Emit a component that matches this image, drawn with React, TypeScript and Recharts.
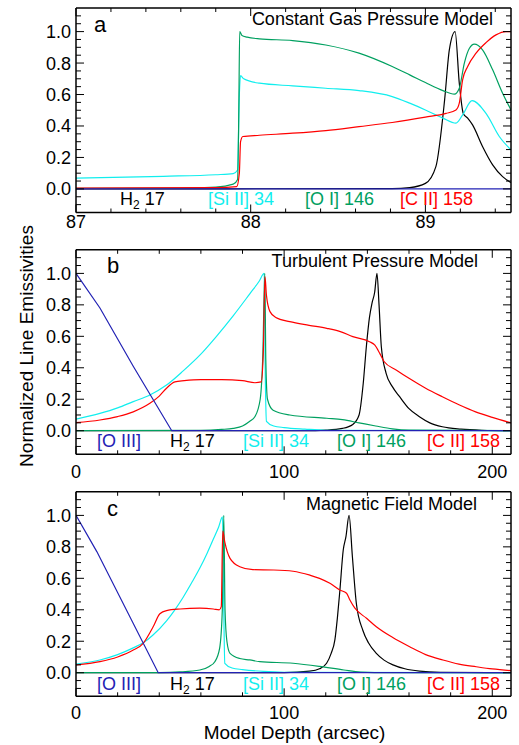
import React from 'react';
import { LineChart, Line, XAxis, YAxis } from 'recharts';

type Pt = [number, number];

// ---- panel a: Constant Gas Pressure Model (depth 87 - 89.5 arcsec)
const aH2: Pt[] = [
  [87, 0], [88.81, 0.002], [88.91, 0.008], [89.0, 0.035], [89.06, 0.142], [89.11, 0.566],
  [89.137, 0.884], [89.17, 1.0], [89.194, 0.672], [89.217, 0.48], [89.242, 0.45], [89.27, 0.407],
  [89.327, 0.27], [89.385, 0.153], [89.442, 0.078], [89.49, 0.04],
];
const aSi: Pt[] = [
  [87, 0.068], [87.5, 0.08], [87.8, 0.09], [87.9, 0.097], [87.925, 0.12], [87.935, 0.6],
  [87.942, 0.72], [87.96, 0.7], [88.05, 0.672], [88.24, 0.655], [88.43, 0.64], [88.62, 0.625],
  [88.81, 0.587], [88.91, 0.545], [89.0, 0.502], [89.1, 0.45], [89.175, 0.418], [89.213, 0.47],
  [89.267, 0.561], [89.347, 0.48], [89.423, 0.333], [89.49, 0.248],
];
const aOI: Pt[] = [
  [87, 0.003], [87.5, 0.005], [87.8, 0.012], [87.9, 0.03], [87.925, 0.06], [87.932, 0.5],
  [87.937, 1.0], [87.95, 0.975], [87.98, 0.965], [88.05, 0.954], [88.24, 0.943], [88.43, 0.915],
  [88.62, 0.863], [88.81, 0.778], [88.91, 0.725], [89.0, 0.676], [89.1, 0.625], [89.166, 0.602],
  [89.194, 0.64], [89.223, 0.8], [89.252, 0.894], [89.28, 0.92], [89.327, 0.884], [89.385, 0.757],
  [89.442, 0.608], [89.49, 0.502],
];
const aCII: Pt[] = [
  [87, 0.005], [87.8, 0.008], [87.92, 0.015], [87.935, 0.1], [87.942, 0.3], [87.955, 0.333],
  [88.05, 0.341], [88.24, 0.354], [88.43, 0.371], [88.62, 0.396], [88.81, 0.422], [89.0, 0.456],
  [89.118, 0.48], [89.175, 0.502], [89.194, 0.545], [89.213, 0.693], [89.242, 0.778],
  [89.29, 0.863], [89.347, 0.93], [89.404, 0.979], [89.461, 1.0], [89.49, 1.0],
];
const aOIII: Pt[] = [[87, 0], [89.49, 0]];

// ---- panel b: Turbulent Pressure Model (depth 0 - 209 arcsec)
const bH2: Pt[] = [
  [0, 0], [110, 0], [120, 0.004], [128, 0.015], [133, 0.04], [136, 0.1], [138, 0.3],
  [139.5, 0.534], [141, 0.72], [142.2, 0.81], [143.5, 0.88], [144.6, 1.0], [145.6, 0.8],
  [146.7, 0.534], [149, 0.365], [152, 0.28], [155.5, 0.216], [160, 0.14], [165, 0.089],
  [170, 0.05], [176, 0.025], [185, 0.01], [195, 0.003], [209, 0],
];
const bSi: Pt[] = [
  [0, 0.074], [11.5, 0.11], [20, 0.145], [27.5, 0.185], [35.5, 0.227], [43.5, 0.29],
  [51.5, 0.38], [59.5, 0.48], [67.5, 0.6], [75.5, 0.73], [83.5, 0.87], [88, 0.95],
  [90.4, 1.0], [91, 0.3], [91.5, 0.06], [95, 0.03], [100, 0.02], [110, 0.01], [120, 0.003], [209, 0],
];
const bOI: Pt[] = [
  [0, 0], [60, 0.002], [70, 0.008], [75.5, 0.015], [80, 0.03], [83.5, 0.06], [86, 0.09],
  [88.5, 0.2], [89.8, 0.5], [90.7, 1.0], [91.2, 0.45], [92, 0.2], [94.7, 0.13], [102.7, 0.1],
  [120.5, 0.079], [128, 0.07], [136, 0.05], [144, 0.03], [152, 0.012], [160, 0.004], [209, 0],
];
const bCII: Pt[] = [
  [0, 0.051], [11.5, 0.068], [20, 0.09], [27.5, 0.12], [35.5, 0.174], [40, 0.22], [43.5, 0.27],
  [47.5, 0.31], [52, 0.318], [60, 0.325], [70, 0.325], [80, 0.318], [86, 0.305], [89, 0.31],
  [90, 0.5], [90.8, 0.98], [91.5, 0.86], [93.2, 0.757], [96, 0.72], [102.7, 0.693],
  [112, 0.67], [120.5, 0.651], [127, 0.63], [133, 0.598], [141, 0.566], [143.5, 0.545],
  [146, 0.49], [148, 0.44], [154, 0.385], [160, 0.333], [168, 0.27], [176, 0.216],
  [184, 0.165], [192, 0.12], [200, 0.085], [209, 0.05],
];
const bOIII: Pt[] = [[0, 1.0], [11.5, 0.78], [27.5, 0.41], [46, 0], [209, 0]];

// ---- panel c: Magnetic Field Model
const cH2: Pt[] = [
  [0, 0], [100, 0.001], [112.3, 0.01], [117, 0.025], [120.4, 0.06], [122.5, 0.12],
  [124.4, 0.21], [125.6, 0.35], [126.8, 0.526], [128.4, 0.78], [129.7, 0.865], [131.2, 1.0],
  [132.8, 0.737], [134.7, 0.44], [137.8, 0.27], [140.5, 0.19], [144.3, 0.123], [148, 0.08],
  [152.3, 0.05], [158, 0.025], [165, 0.01], [175, 0.003], [209, 0],
];
const cSi: Pt[] = [
  [0, 0.055], [11.5, 0.081], [20, 0.115], [27.5, 0.158], [32.3, 0.19], [37, 0.24],
  [43.5, 0.33], [47.5, 0.4], [51.5, 0.48], [55.5, 0.57], [59.5, 0.665], [63, 0.76],
  [66, 0.85], [68.5, 0.925], [70.4, 0.99], [70.9, 0.5], [71.5, 0.06], [75, 0.03], [80, 0.02],
  [90, 0.008], [100, 0.003], [209, 0],
];
const cOI: Pt[] = [
  [0, 0], [40, 0.001], [50, 0.005], [59.5, 0.017], [64, 0.04], [66.7, 0.07], [69, 0.155],
  [70.3, 0.4], [71, 1.0], [71.6, 0.4], [72.5, 0.2], [74, 0.123], [78.7, 0.09], [83.5, 0.081],
  [88.3, 0.07], [104.3, 0.06], [117, 0.04], [128.7, 0.017], [136.7, 0.004], [150, 0], [209, 0],
];
const cCII: Pt[] = [
  [0, 0.049], [11.5, 0.07], [20, 0.1], [27.5, 0.144], [32.3, 0.187], [37, 0.29], [40.3, 0.375],
  [43.5, 0.395], [50, 0.405], [59.5, 0.41], [66, 0.405], [68.8, 0.4], [69.8, 0.42], [70.5, 0.9],
  [71.5, 0.83], [74, 0.727], [78.7, 0.674], [85, 0.655], [95, 0.653], [104.3, 0.645],
  [112.4, 0.62], [117, 0.6], [122, 0.568], [126.7, 0.526], [130, 0.505], [131.6, 0.462],
  [134, 0.41], [139.6, 0.346], [144.3, 0.292], [152, 0.225], [160.3, 0.165], [168, 0.115],
  [176.3, 0.081], [184, 0.055], [192.3, 0.038], [200, 0.024], [209, 0.013],
];
const cOIII: Pt[] = [[0, 1.0], [10, 0.77], [39.5, 0], [209, 0]];

// ---- axes
const aXTicks = [87, 87.2, 87.4, 87.6, 87.8, 88, 88.2, 88.4, 88.6, 88.8, 89, 89.2, 89.4];
const aXMajor = [87, 88, 89];
const bcXTicks = [0, 20, 40, 60, 80, 100, 120, 140, 160, 180, 200];
const bcXMajor = [0, 100, 200];
const yTicks = [
  -0.1, -0.05, 0, 0.05, 0.1, 0.15, 0.2, 0.25, 0.3, 0.35, 0.4, 0.45, 0.5, 0.55, 0.6,
  0.65, 0.7, 0.75, 0.8, 0.85, 0.9, 0.95, 1.0, 1.05, 1.1,
];
const yMajor = [0, 0.2, 0.4, 0.6, 0.8, 1.0];

const BLACK = '#000000';
const CYAN = '#11EEEE';
const GREEN = '#00A060';
const RED = '#FF0000';
const BLUE = '#2222B4';
const FONT = '"Liberation Sans", Arial, Helvetica, sans-serif';

const toPts = (p: Pt[]) => p.map(([x, y]) => ({ x, y }));
const isMajor = (v: number, list: number[]) => list.some((m) => Math.abs(m - v) < 1e-6);

function BottomTick(props: any) {
  const { x, y, payload, majors, labelDy } = props;
  const major = isMajor(payload.value, majors);
  return (
    <g>
      <line x1={x} x2={x} y1={y} y2={y - (major ? 8 : 4)} stroke="#000" />
      {major && (
        <text x={x} y={y + labelDy} textAnchor="middle" fontSize={18} fontFamily={FONT} fill="#000">
          {payload.value}
        </text>
      )}
    </g>
  );
}

function TopTick(props: any) {
  const { x, y, payload, majors } = props;
  const major = isMajor(payload.value, majors);
  return <line x1={x} x2={x} y1={y} y2={y + (major ? 8 : 4)} stroke="#000" />;
}

function LeftTick(props: any) {
  const { x, y, payload } = props;
  const major = isMajor(payload.value, yMajor);
  return (
    <g>
      <line x1={x} x2={x + (major ? 8 : 5)} y1={y} y2={y} stroke="#000" />
      {major && (
        <text x={x - 5} y={y + 6.5} textAnchor="end" fontSize={18} fontFamily={FONT} fill="#000">
          {payload.value.toFixed(1)}
        </text>
      )}
    </g>
  );
}

function RightTick(props: any) {
  const { x, y, payload } = props;
  const major = isMajor(payload.value, yMajor);
  return <line x1={x} x2={x - (major ? 8 : 5)} y1={y} y2={y} stroke="#000" />;
}

interface Series {
  pts: Pt[];
  color: string;
  linear?: boolean;
}

interface PanelProps {
  top: number;
  plotTop: number;
  plotBottom: number;
  xDomain: [number, number];
  xTicks: number[];
  xMajor: number[];
  labelDy: number;
  series: Series[];
}

const H = 263;
const frame = { stroke: '#000', strokeWidth: 1.5 };

// top/bottom/right axes are 1px thick so that recharts still draws them
function Panel({ top, plotTop, plotBottom, xDomain, xTicks, xMajor, labelDy, series }: PanelProps) {
  const mt = plotTop - top - 1;
  const mb = H - (plotBottom - top) - 1;
  return (
    <div style={{ position: 'absolute', left: 0, top, width: 519, height: H }}>
      <LineChart width={519} height={H} margin={{ top: mt, right: 7, bottom: mb, left: 0 }}>
        <XAxis
          xAxisId="b" type="number" dataKey="x" domain={xDomain} allowDataOverflow
          ticks={xTicks} interval={0} height={1} tickSize={0} tickMargin={0}
          tickLine={false} axisLine={frame}
          tick={(p: any) => <BottomTick {...p} majors={xMajor} labelDy={labelDy} />}
        />
        <XAxis
          xAxisId="t" orientation="top" type="number" dataKey="x" domain={xDomain} allowDataOverflow
          ticks={xTicks} interval={0} height={1} tickSize={0} tickMargin={0}
          tickLine={false} axisLine={frame}
          tick={(p: any) => <TopTick {...p} majors={xMajor} />}
        />
        <YAxis
          yAxisId="l" type="number" domain={[-0.15, 1.15]} allowDataOverflow
          ticks={yTicks} interval={0} width={76} tickSize={0} tickMargin={0}
          tickLine={false} axisLine={frame} tick={(p: any) => <LeftTick {...p} />}
        />
        <YAxis
          yAxisId="r" orientation="right" type="number" domain={[-0.15, 1.15]} allowDataOverflow
          ticks={yTicks} interval={0} width={1} tickSize={0} tickMargin={0}
          tickLine={false} axisLine={frame} tick={(p: any) => <RightTick {...p} />}
        />
        {series.map((s, i) => (
          <Line
            key={i}
            xAxisId="b"
            yAxisId="l"
            data={toPts(s.pts)}
            dataKey="y"
            type={s.linear ? 'linear' : 'monotone'}
            stroke={s.color}
            strokeWidth={1.2}
            dot={false}
            activeDot={false}
            isAnimationActive={false}
          />
        ))}
      </LineChart>
    </div>
  );
}

function Label({ x, y, color, children }: { x: number; y: number; color: string; children: React.ReactNode }) {
  return (
    <text x={x} y={y} fill={color} fontSize={18} fontFamily={FONT}>
      {children}
    </text>
  );
}

function H2({ x, y }: { x: number; y: number }) {
  return (
    <text x={x} y={y} fill={BLACK} fontSize={18} fontFamily={FONT}>
      H<tspan fontSize={12} dy={4}>2</tspan>
      <tspan dy={-4}> 17</tspan>
    </text>
  );
}

export default function App() {
  return (
    <div style={{ position: 'absolute', left: 0, top: 0, width: 519, height: 745, background: '#fff', overflow: 'hidden' }}>
      <Panel
        top={0} plotTop={8} plotBottom={212.5} xDomain={[87, 89.49]} xTicks={aXTicks} xMajor={aXMajor} labelDy={15.5}
        series={[
          { pts: aH2, color: BLACK },
          { pts: aSi, color: CYAN },
          { pts: aOI, color: GREEN },
          { pts: aCII, color: RED },
          { pts: aOIII, color: BLUE, linear: true },
        ]}
      />
      <Panel
        top={240} plotTop={249.8} plotBottom={454.3} xDomain={[0, 209]} xTicks={bcXTicks} xMajor={bcXMajor} labelDy={23.5}
        series={[
          { pts: bH2, color: BLACK },
          { pts: bSi, color: CYAN },
          { pts: bOI, color: GREEN },
          { pts: bCII, color: RED },
          { pts: bOIII, color: BLUE, linear: true },
        ]}
      />
      <Panel
        top={482} plotTop={491.8} plotBottom={696.3} xDomain={[0, 209]} xTicks={bcXTicks} xMajor={bcXMajor} labelDy={22.5}
        series={[
          { pts: cH2, color: BLACK },
          { pts: cSi, color: CYAN },
          { pts: cOI, color: GREEN },
          { pts: cCII, color: RED },
          { pts: cOIII, color: BLUE, linear: true },
        ]}
      />
      <svg width={519} height={745} style={{ position: 'absolute', left: 0, top: 0, pointerEvents: 'none' }}>
        {/* panel letters and model names */}
        <text x={94} y={32} fontSize={22} fontFamily={FONT}>a</text>
        <text x={107} y={273} fontSize={22} fontFamily={FONT}>b</text>
        <text x={107} y={516} fontSize={22} fontFamily={FONT}>c</text>
        <text x={493} y={25} fontSize={18} fontFamily={FONT} textAnchor="end">Constant Gas Pressure Model</text>
        <text x={478} y={267} fontSize={18} fontFamily={FONT} textAnchor="end">Turbulent Pressure Model</text>
        <text x={477} y={510} fontSize={18} fontFamily={FONT} textAnchor="end">Magnetic Field Model</text>

        {/* line names, panel a */}
        <H2 x={120} y={205} />
        <Label x={208} y={205} color={CYAN}>[Si II] 34</Label>
        <Label x={305} y={205} color={GREEN}>[O I] 146</Label>
        <Label x={400} y={205} color={RED}>[C II] 158</Label>

        {/* panel b */}
        <Label x={97} y={447} color={BLUE}>[O III]</Label>
        <H2 x={170} y={447} />
        <Label x={243} y={447} color={CYAN}>[Si II] 34</Label>
        <Label x={337} y={447} color={GREEN}>[O I] 146</Label>
        <Label x={427} y={447} color={RED}>[C II] 158</Label>

        {/* panel c */}
        <Label x={97} y={690} color={BLUE}>[O III]</Label>
        <H2 x={170} y={690} />
        <Label x={243} y={690} color={CYAN}>[Si II] 34</Label>
        <Label x={337} y={690} color={GREEN}>[O I] 146</Label>
        <Label x={427} y={690} color={RED}>[C II] 158</Label>

        {/* axis titles */}
        <text x={33} y={346} fontSize={19} fontFamily={FONT} textAnchor="middle" transform="rotate(-90 33 346)">
          Normalized Line Emissivities
        </text>
        <text x={294.5} y={739} fontSize={19} fontFamily={FONT} textAnchor="middle">Model Depth (arcsec)</text>
      </svg>
    </div>
  );
}
